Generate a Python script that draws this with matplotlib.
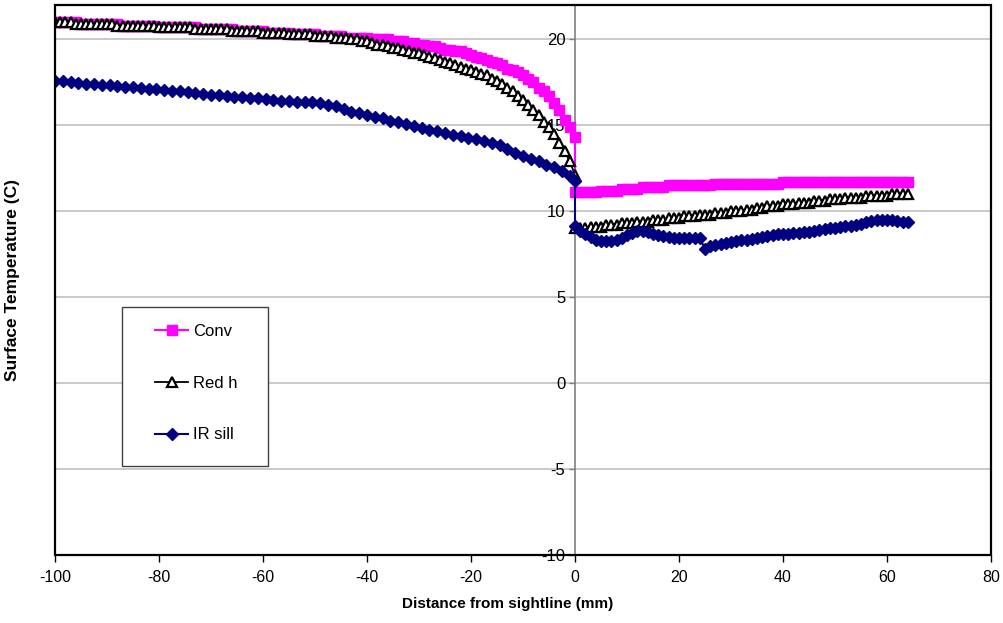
import numpy as np
import matplotlib
matplotlib.use("Agg")
import matplotlib.pyplot as plt
from matplotlib.patches import Rectangle

plt.rcParams['font.family'] = ['Liberation Sans', 'DejaVu Sans']
plt.rcParams['axes.unicode_minus'] = False

# sample positions (mm from sightline)
x_neg = np.arange(-100, 1)          # -100 .. 0, 1 mm
x_pos = np.arange(0, 65)            # 0 .. 64, 1 mm
ir_x_neg = list(np.arange(-100, -0.9, 1.5)) + [0]

# Conv
conv_neg = [21.0, 21.0, 21.0, 21.0, 21.0, 20.9, 20.9, 20.9, 20.9, 20.9,
            20.9, 20.9, 20.9, 20.8, 20.8, 20.8, 20.8, 20.8, 20.8, 20.8,
            20.7, 20.7, 20.7, 20.7, 20.7, 20.7, 20.7, 20.7, 20.6, 20.6,
            20.6, 20.6, 20.6, 20.6, 20.6, 20.5, 20.5, 20.5, 20.5, 20.5,
            20.5, 20.4, 20.4, 20.4, 20.4, 20.4, 20.3, 20.3, 20.3, 20.3,
            20.3, 20.2, 20.2, 20.2, 20.2, 20.2, 20.1, 20.1, 20.1, 20.1,
            20.1, 20.0, 20.0, 20.0, 20.0, 19.9, 19.9, 19.9, 19.8, 19.8,
            19.7, 19.7, 19.6, 19.6, 19.5, 19.4, 19.4, 19.3, 19.3, 19.2,
            19.1, 19.0, 18.9, 18.8, 18.7, 18.6, 18.5, 18.3, 18.2, 18.1,
            17.9, 17.7, 17.5, 17.2, 17.0, 16.7, 16.3, 15.9, 15.3, 14.9,
            14.3]
conv_pos = [11.1, 11.1, 11.1, 11.1, 11.1, 11.2, 11.2, 11.2, 11.2, 11.3,
            11.3, 11.3, 11.3, 11.4, 11.4, 11.4, 11.4, 11.4, 11.5, 11.5,
            11.5, 11.5, 11.5, 11.5, 11.5, 11.5, 11.5, 11.6, 11.6, 11.6,
            11.6, 11.6, 11.6, 11.6, 11.6, 11.6, 11.6, 11.6, 11.6, 11.6,
            11.7, 11.7, 11.7, 11.7, 11.7, 11.7, 11.7, 11.7, 11.7, 11.7,
            11.7, 11.7, 11.7, 11.7, 11.7, 11.7, 11.7, 11.7, 11.7, 11.7,
            11.7, 11.7, 11.7, 11.7, 11.7]

# Red h
redh_neg = [21.0, 21.0, 21.0, 21.0, 20.9, 20.9, 20.9, 20.9, 20.9, 20.9,
            20.9, 20.9, 20.8, 20.8, 20.8, 20.8, 20.8, 20.8, 20.8, 20.8,
            20.7, 20.7, 20.7, 20.7, 20.7, 20.7, 20.7, 20.6, 20.6, 20.6,
            20.6, 20.6, 20.6, 20.6, 20.5, 20.5, 20.5, 20.5, 20.5, 20.5,
            20.4, 20.4, 20.4, 20.4, 20.4, 20.3, 20.3, 20.3, 20.3, 20.3,
            20.2, 20.2, 20.2, 20.2, 20.1, 20.1, 20.1, 20.0, 20.0, 19.9,
            19.9, 19.8, 19.7, 19.7, 19.6, 19.5, 19.5, 19.4, 19.3, 19.2,
            19.2, 19.1, 19.0, 18.9, 18.8, 18.7, 18.6, 18.5, 18.4, 18.3,
            18.2, 18.1, 18.0, 17.9, 17.7, 17.6, 17.4, 17.2, 17.0, 16.7,
            16.5, 16.2, 15.9, 15.6, 15.2, 14.9, 14.5, 14.0, 13.5, 12.9,
            12.1]
redh_pos = [9.0, 9.0, 9.0, 9.1, 9.1, 9.1, 9.2, 9.2, 9.2, 9.3,
            9.3, 9.3, 9.4, 9.4, 9.4, 9.5, 9.5, 9.5, 9.6, 9.6,
            9.6, 9.7, 9.7, 9.7, 9.8, 9.8, 9.8, 9.9, 9.9, 9.9,
            10.0, 10.0, 10.0, 10.1, 10.1, 10.2, 10.2, 10.3, 10.3, 10.3,
            10.4, 10.4, 10.4, 10.5, 10.5, 10.5, 10.6, 10.6, 10.6, 10.7,
            10.7, 10.7, 10.8, 10.8, 10.8, 10.8, 10.9, 10.9, 10.9, 10.9,
            10.9, 11.0, 11.0, 11.0, 11.0]

# IR sill
ir_neg = [17.58, 17.55, 17.52, 17.47, 17.43, 17.39, 17.35, 17.32, 17.29, 17.25,
          17.22, 17.18, 17.14, 17.10, 17.06, 17.02, 16.97, 16.92, 16.87, 16.82,
          16.78, 16.74, 16.70, 16.67, 16.64, 16.61, 16.57, 16.53, 16.48, 16.43,
          16.40, 16.37, 16.35, 16.33, 16.28, 16.20, 16.10, 15.95, 15.80, 15.70,
          15.60, 15.50, 15.40, 15.28, 15.17, 15.06, 14.95, 14.84, 14.75, 14.66,
          14.56, 14.46, 14.37, 14.28, 14.18, 14.08, 13.97, 13.85, 13.65, 13.38,
          13.22, 13.05, 12.90, 12.72, 12.55, 12.32, 12.05, 11.75]
ir_pos = [9.13, 8.84, 8.65, 8.50, 8.35, 8.27, 8.25, 8.27, 8.35, 8.45,
          8.60, 8.75, 8.85, 8.85, 8.80, 8.70, 8.60, 8.55, 8.50, 8.45,
          8.45, 8.45, 8.45, 8.45, 8.45, 7.80, 7.95, 8.05, 8.12, 8.18,
          8.23, 8.27, 8.30, 8.35, 8.40, 8.45, 8.50, 8.55, 8.60, 8.65,
          8.68, 8.70, 8.73, 8.75, 8.78, 8.82, 8.86, 8.90, 8.95, 9.00,
          9.05, 9.08, 9.12, 9.17, 9.22, 9.28, 9.35, 9.42, 9.48, 9.52,
          9.52, 9.50, 9.45, 9.40, 9.35]

x_ticks = [-100, -80, -60, -40, -20, 0, 20, 40, 60, 80]
y_ticks = [-10, -5, 0, 5, 10, 15, 20]

fig = plt.figure(figsize=(10.04, 6.23), dpi=100)
fig.patch.set_facecolor('white')
ax = fig.add_axes([55 / 1004, 1 - 555 / 623, 936 / 1004, 550 / 623])

conv_x = np.concatenate([x_neg, x_pos])
ax.plot(conv_x, conv_neg + conv_pos, color='#ff00ff', lw=1.5,
        marker='s', ms=7, mec='#ff00ff', label='Conv', zorder=3)
ax.plot(conv_x, redh_neg + redh_pos, color='black', lw=1.3,
        marker='^', ms=7, mfc='white', mec='black', mew=1.6,
        label='Red h', zorder=4)
ax.plot(ir_x_neg + list(x_pos), ir_neg + ir_pos, color='#000080', lw=1.5,
        marker='D', ms=6, label='IR sill', zorder=5)

ax.set_xlim(-100, 80)
ax.set_ylim(-10, 22)
ax.set_xticks(x_ticks)
ax.set_yticks(y_ticks)
ax.yaxis.grid(True, color='#c0c0c0', lw=1.2)
ax.set_axisbelow(True)

# y axis sits on x = 0, plot border drawn separately
ax.spines['left'].set_position(('data', 0))
ax.spines['left'].set_color('#808080')
ax.spines['left'].set_linewidth(1.2)
for s in ['top', 'right', 'bottom']:
    ax.spines[s].set_visible(False)
ax.add_patch(Rectangle((0, 0), 1, 1, transform=ax.transAxes, fill=False,
                       ec='black', lw=1.6, clip_on=False, zorder=6))

ax.tick_params(axis='y', direction='out', length=4, width=1, color='#808080',
               labelsize=12, pad=3)
ax.tick_params(axis='x', direction='out', length=5, width=1, color='black',
               labelsize=11.5, pad=6)

ax.set_xlabel('Distance from sightline (mm)', fontsize=11, fontweight='bold',
              labelpad=8)
ax.xaxis.set_label_coords(0.484, -0.077)
ax.set_ylabel('Surface Temperature (C)', fontsize=12.5, fontweight='bold')
ax.yaxis.set_label_coords(-0.037, 0.5)

# legend box
ax.add_patch(Rectangle((122 / 1004, 1 - 466 / 623), 146 / 1004, 159 / 623,
                       transform=fig.transFigure, fc='white', ec='#404040',
                       lw=1, clip_on=False, zorder=7))
leg = ax.legend(loc='upper left', bbox_to_anchor=(155 / 1004, 1 - 324 / 623),
                bbox_transform=fig.transFigure, frameon=False, fontsize=12,
                borderpad=0, borderaxespad=0, handlelength=2.0,
                handletextpad=0.3, labelspacing=2.2, markerscale=1.0)
leg.set_zorder(8)

fig.savefig('out.png', dpi=100)
